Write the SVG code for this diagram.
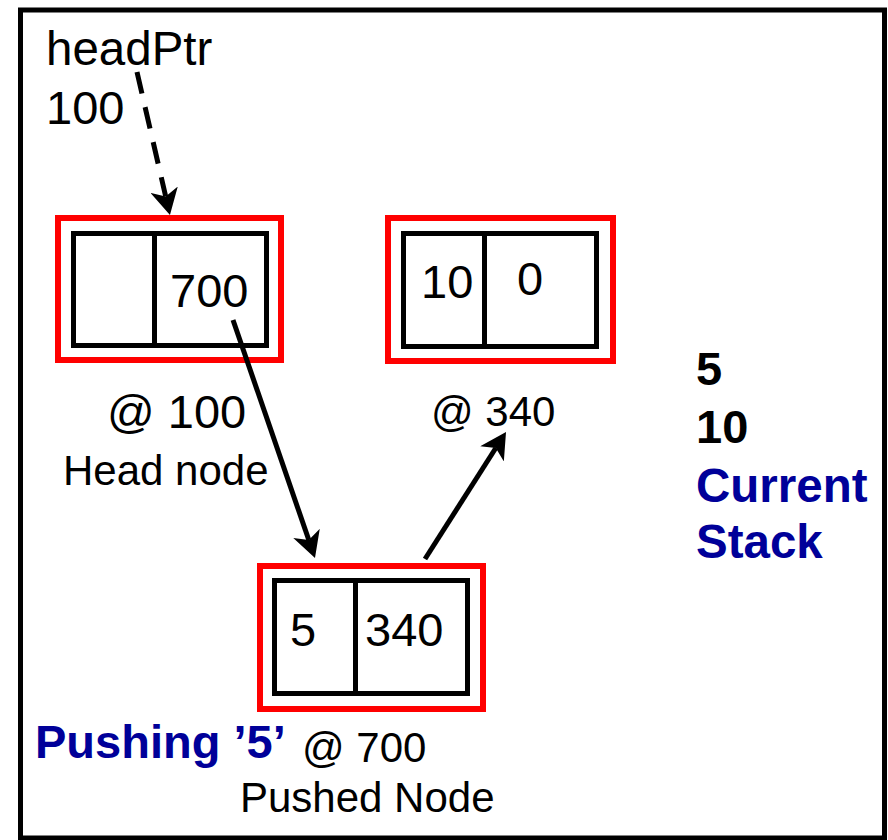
<svg xmlns="http://www.w3.org/2000/svg" width="888" height="840" viewBox="0 0 888 840">
<style>
  .t { font-family: "Liberation Sans", Arial, sans-serif; fill: #000; }
  .b { font-family: "Liberation Sans", Arial, sans-serif; font-weight: bold; }
  .blue { fill: #000099; }
  .red { fill: none; stroke: #ff0000; stroke-width: 6; }
  .cell { fill: none; stroke: #000; stroke-width: 5; }
  .edge { fill: none; stroke: #000; stroke-width: 5; marker-end: url(#arr); }
</style>
<defs>
  <marker id="arr" viewBox="0 0 26 28" refX="7" refY="14" markerWidth="26" markerHeight="28" markerUnits="userSpaceOnUse" orient="auto">
    <path d="M0,0 L26,14 L0,28 L7,14 Z" fill="#000"/>
  </marker>
</defs>
<rect x="0" y="0" width="888" height="840" fill="#fff"/>
<rect id="frame" x="20.5" y="10" width="864" height="828" fill="none" stroke="#000" stroke-width="5"/>

<g id="headPtr">
  <text class="t" x="46" y="65" font-size="47.5">headPtr</text>
  <text class="t" x="46" y="124" font-size="47">100</text>
</g>

<g id="head-node">
  <rect class="red" x="58" y="218" width="223" height="142"/>
  <rect class="cell" x="73.5" y="233.5" width="193" height="112"/>
  <line class="cell" x1="154.5" y1="233.5" x2="154.5" y2="345.5"/>
  <text class="t" x="170" y="307" font-size="47">700</text>
  <text class="t" x="107" y="428" font-size="47">@ 100</text>
  <text class="t" x="63" y="485" font-size="42">Head node</text>
</g>

<g id="node-340">
  <rect class="red" x="388" y="218" width="225" height="143"/>
  <rect class="cell" x="403.5" y="233.5" width="193" height="113"/>
  <line class="cell" x1="484.5" y1="233.5" x2="484.5" y2="346.5"/>
  <text class="t" x="421" y="298" font-size="47">10</text>
  <text class="t" x="517" y="295" font-size="47">0</text>
  <text class="t" x="431" y="426" font-size="42">@ 340</text>
</g>

<g id="pushed-node">
  <rect class="red" x="260" y="566" width="223" height="143"/>
  <rect class="cell" x="274.5" y="580.5" width="193" height="113"/>
  <line class="cell" x1="355.5" y1="580.5" x2="355.5" y2="693.5"/>
  <text class="t" x="290" y="646" font-size="47">5</text>
  <text class="t" x="365" y="646" font-size="47">340</text>
  <text class="b blue" x="35" y="758" font-size="47">Pushing ’5’</text>
  <text class="t" x="302" y="762" font-size="42">@ 700</text>
  <text class="t" x="240" y="812" font-size="42">Pushed Node</text>
</g>

<g id="stack">
  <text class="b" x="696" y="385" font-size="47" fill="#000">5</text>
  <text class="b" x="696" y="443" font-size="47" fill="#000">10</text>
  <text class="b blue" x="696" y="502" font-size="47.5">Current</text>
  <text class="b blue" x="696" y="558" font-size="47.5">Stack</text>
</g>

<g id="connectors">
  <line class="edge" x1="137" y1="72" x2="165.7" y2="196.5" stroke-dasharray="22 14"/>
  <line class="edge" x1="233" y1="320" x2="308.8" y2="540"/>
  <line class="edge" x1="425" y1="559" x2="495.8" y2="448"/>
</g>
</svg>
